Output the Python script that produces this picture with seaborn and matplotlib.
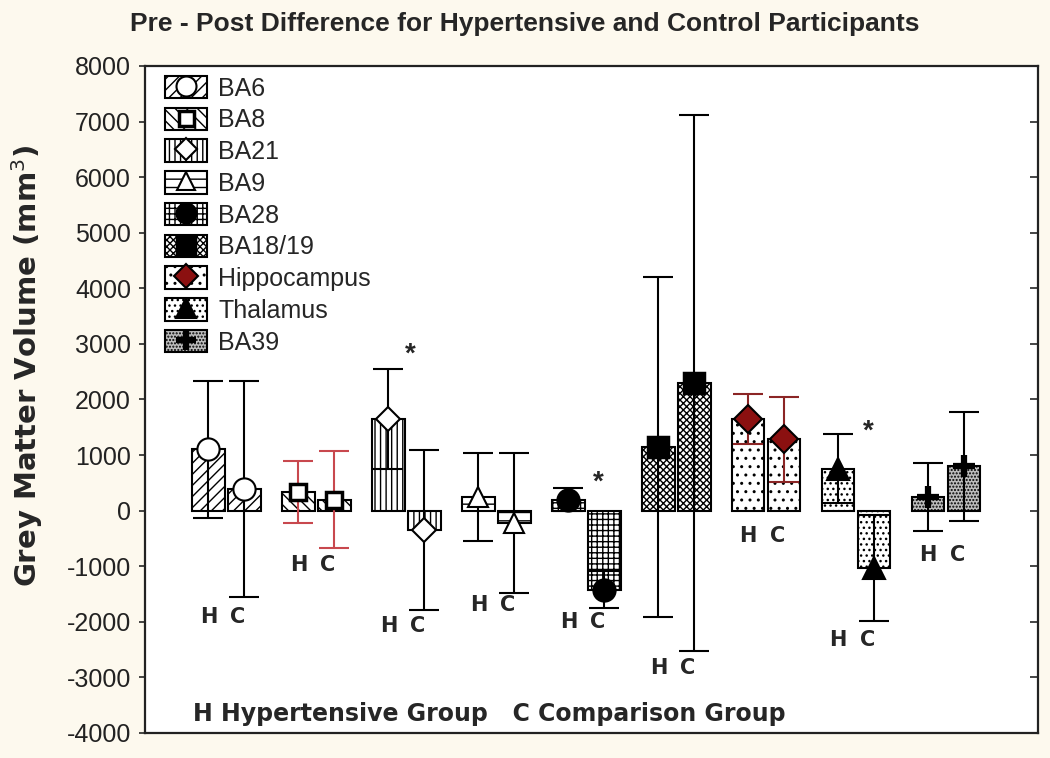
import numpy as np
import pandas as pd
import seaborn as sns
import matplotlib.pyplot as plt
from matplotlib.lines import Line2D
from matplotlib.patches import Patch
from matplotlib.legend_handler import HandlerTuple

# pre - post grey matter difference, mean and error per region / group
regions = ["BA6", "BA8", "BA21", "BA9", "BA28", "BA18/19", "Hippocampus", "Thalamus", "BA39"]
groups = ["H", "C"]
mean_h = [1100, 340, 1650, 250, 200, 1150, 1650, 750, 250]
mean_c = [390, 200, -350, -230, -1420, 2290, 1280, -1030, 800]
err_h = [1240, 560, 900, 790, 215, 3060, 450, 620, 615]
err_c = [1950, 866, 1440, 1260, 330, 4820, 770, 950, 980]

# where the H / C letters and the asterisks sit
hc_label_y = [-1906, -971, -2068, -1690, -1996, -2824, -450, -2320, -791]
star_region = ["BA21", "BA28", "Thalamus"]
star_y = [2806, 504, 1421]

# look of each region
hatches = ["///", "\\\\\\", "|||", "--", "+++", "xxxxx", "..", "...", "....."]
faces = ["white"] * 8 + ["#bdbdbd"]
markers = ["o", "s", "D", "^", "o", "s", "D", "^", "+"]
mfaces = ["white", "white", "white", "white", "black", "black", "#8b1010", "black", "black"]
msizes = [16, 12, 12, 15, 16, 14, 14, 16, 16]
err_colors = ["black", "#c8484e", "black", "black", "black", "black", "#8b2525", "black", "black"]

df = pd.DataFrame({
    "region": regions * 2,
    "group": ["H"] * len(regions) + ["C"] * len(regions),
    "mean": mean_h + mean_c,
})

sns.set_style("white")
plt.rcParams["font.family"] = ["Liberation Sans", "DejaVu Sans"]
plt.rcParams["hatch.linewidth"] = 1.0
plt.rcParams["axes.unicode_minus"] = False

bg = "#fdf9ee"
fig, ax = plt.subplots(figsize=(10.5, 7.58), dpi=100)
fig.patch.set_facecolor(bg)
fig.subplots_adjust(left=0.138, right=0.9886, bottom=0.033, top=0.913)

sns.barplot(data=df, x="region", y="mean", hue="group", hue_order=groups,
            order=regions, palette={"H": "white", "C": "white"}, saturation=1,
            width=0.8, gap=0.1, errorbar=None, edgecolor="black", linewidth=1.5,
            legend=False, ax=ax)


def mk_width(m):
    return 4.5 if m == "+" else (2.5 if m == "s" else 1.5)


means = [mean_h, mean_c]
errs = [err_h, err_c]
bar_groups = list(ax.containers)
for j, cont in enumerate(bar_groups):
    for i, bar in enumerate(cont.patches):
        bar.set_hatch(hatches[i])
        bar.set_facecolor(faces[i])
        x = bar.get_x() + bar.get_width() / 2
        ax.errorbar(x, means[j][i], yerr=errs[j][i], fmt="none", ecolor=err_colors[i],
                    elinewidth=1.5, capsize=11, capthick=1.5, zorder=4)
        ax.plot(x, means[j][i], marker=markers[i], ms=msizes[i], mfc=mfaces[i],
                mec="black", mew=mk_width(markers[i]), ls="none", zorder=5)

# H / C letters under each pair
for i in range(len(regions)):
    ax.text(i - 0.2, hc_label_y[i], "H", ha="center", va="center",
            fontsize=15, fontweight="bold", family="DejaVu Sans")
    ax.text(i + 0.13, hc_label_y[i], "C", ha="center", va="center",
            fontsize=15, fontweight="bold", family="DejaVu Sans")

for r, y in zip(star_region, star_y):
    i = regions.index(r)
    dx = 0.04 if r == "BA21" else 0.13
    ax.text(i + dx, y, "*", ha="center", va="center", fontsize=20, fontweight="bold")

ax.text(0.054, 0.028, "H Hypertensive Group   C Comparison Group", transform=ax.transAxes,
        ha="left", va="center", fontsize=17, fontweight="bold", family="DejaVu Sans")

# legend: hatch box with the marker on top
handles = []
for i in range(len(regions)):
    p = Patch(facecolor=faces[i], edgecolor="black", hatch=hatches[i], linewidth=1.5)
    m = Line2D([], [], marker=markers[i], ms=msizes[i] * 0.9, mfc=mfaces[i],
               mec="black", mew=mk_width(markers[i]), ls="none")
    handles.append((p, m))
ax.legend(handles, regions, handler_map={tuple: HandlerTuple(ndivide=1)},
          loc="upper left", bbox_to_anchor=(0.022, 0.985), frameon=False,
          borderpad=0, borderaxespad=0, fontsize=18, handlelength=1.7,
          handleheight=1.0, labelspacing=0.28, handletextpad=0.45)

ax.set_xlim(-0.906, 9.02)
ax.set_ylim(-4000, 8000)
ax.set_yticks(np.arange(-4000, 8001, 1000))
ax.set_xticks([])
ax.set_xlabel("")
ax.set_ylabel("")
ax.tick_params(axis="y", labelsize=18, labelcolor="#222222", direction="out",
               length=4, width=1.2, left=True, right=False, pad=6)
# inward ticks on the right side
sec = ax.secondary_yaxis("right")
sec.set_yticks(np.arange(-4000, 8001, 1000))
sec.tick_params(direction="in", length=6, width=1.2, labelright=False)
for s in ax.spines.values():
    s.set_visible(True)
    s.set_color("#222222")
    s.set_linewidth(1.6)
sec.spines["right"].set_visible(False)

fig.text(0.5, 0.968, "Pre - Post Difference for Hypertensive and Control Participants",
         ha="center", va="center", fontsize=19, fontweight="bold",
         family=["Liberation Sans", "DejaVu Sans"])
fig.text(0.026, 0.517, "Grey Matter Volume (mm$^3$)", rotation=90, ha="center",
         va="center", fontsize=21, fontweight="bold", family="DejaVu Sans")

fig.savefig("out.png", dpi=100, facecolor=bg)
